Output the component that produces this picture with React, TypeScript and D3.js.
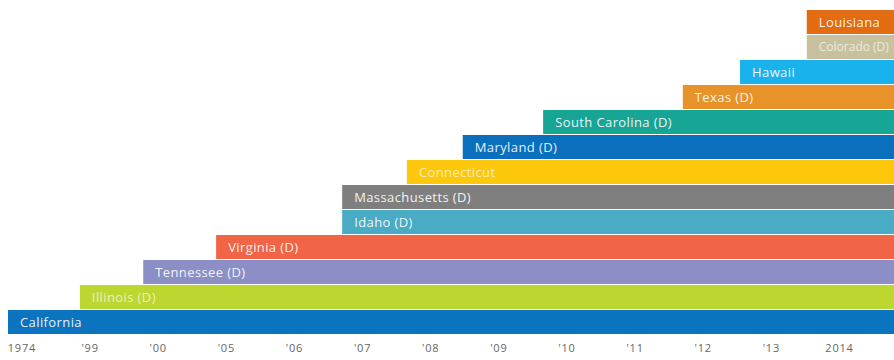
import React, { useLayoutEffect, useRef } from "react";
import * as d3 from "d3";

const tickLabels = ["1974", "'99", "'00", "'05", "'06", "'07", "'08", "'09", "'10", "'11", "'12", "'13", "2014"];

// states in order from bottom to top
const states = [
  "California", "Illinois (D)", "Tennessee (D)", "Virginia (D)", "Idaho (D)",
  "Massachusetts (D)", "Connecticut", "Maryland (D)", "South Carolina (D)",
  "Texas (D)", "Hawaii", "Colorado (D)", "Louisiana",
];
// start position of each bar, in axis-slot units (0 = 1974 slot)
const starts = [-0.205, 0.85, 1.78, 2.85, 4.7, 4.7, 5.65, 6.47, 7.65, 9.7, 10.54, 11.52, 11.52];
const colors = [
  "#0a74bf", "#bdd630", "#8b8fc6", "#f26446", "#4aabc5",
  "#7f7f7f", "#fdc70c", "#0a6fbd", "#17a596", "#e8922a",
  "#19b2ec", "#c7c19e", "#e36c12",
];

const W = 894, H = 360;
const END = 12.8;

export default function App() {
  const ref = useRef<SVGSVGElement>(null);
  const x = d3.scaleLinear().domain([-0.205, END]).range([8, 894]);
  const y = d3.scaleBand<number>()
    .domain(d3.range(states.length).reverse())
    .range([10, 334])
    .paddingInner(0.04);

  useLayoutEffect(() => {
    if (!ref.current) return;
    d3.select(ref.current).selectAll<SVGTextElement, unknown>("text.bar-label").each(function () {
      const el = this;
      const x0 = +(el.getAttribute("x") || 0);
      let fs = 13;
      let ls = 0.4;
      while (fs > 8 && x0 + el.getComputedTextLength() > W - 3) {
        fs -= 0.5;
        ls = 0;
        el.setAttribute("font-size", String(fs));
        el.setAttribute("letter-spacing", String(ls));
      }
    });
  }, []);

  return (
    <svg ref={ref} width={W} height={H} style={{ position: "absolute", left: 0, top: 0, display: "block" }}>
      <rect width={W} height={H} fill="#fff" />
      {states.map((s, i) => (
        <g key={s}>
          <rect x={x(starts[i])} y={y(i)} width={x(END) - x(starts[i])} height={y.bandwidth()} fill={colors[i]} />
          <text
            className="bar-label"
            x={x(starts[i]) + 12}
            y={(y(i) as number) + y.bandwidth() / 2}
            dy="0.36em"
            fill="#fff"
            fillOpacity={i === 1 || i === 6 || i === 11 ? 0.7 : 0.92}
            fontFamily="'Open Sans', 'Noto Sans', sans-serif"
            fontSize={13}
            letterSpacing={0.4}
          >
            {s}
          </text>
        </g>
      ))}
      {tickLabels.map((t, i) => (
        <text
          key={t}
          x={x(i)}
          y={352}
          textAnchor="middle"
          fill="#666"
          fontFamily="'Open Sans', 'Noto Sans', sans-serif"
          fontSize={11}
          letterSpacing={0.8}
        >
          {t}
        </text>
      ))}
    </svg>
  );
}
